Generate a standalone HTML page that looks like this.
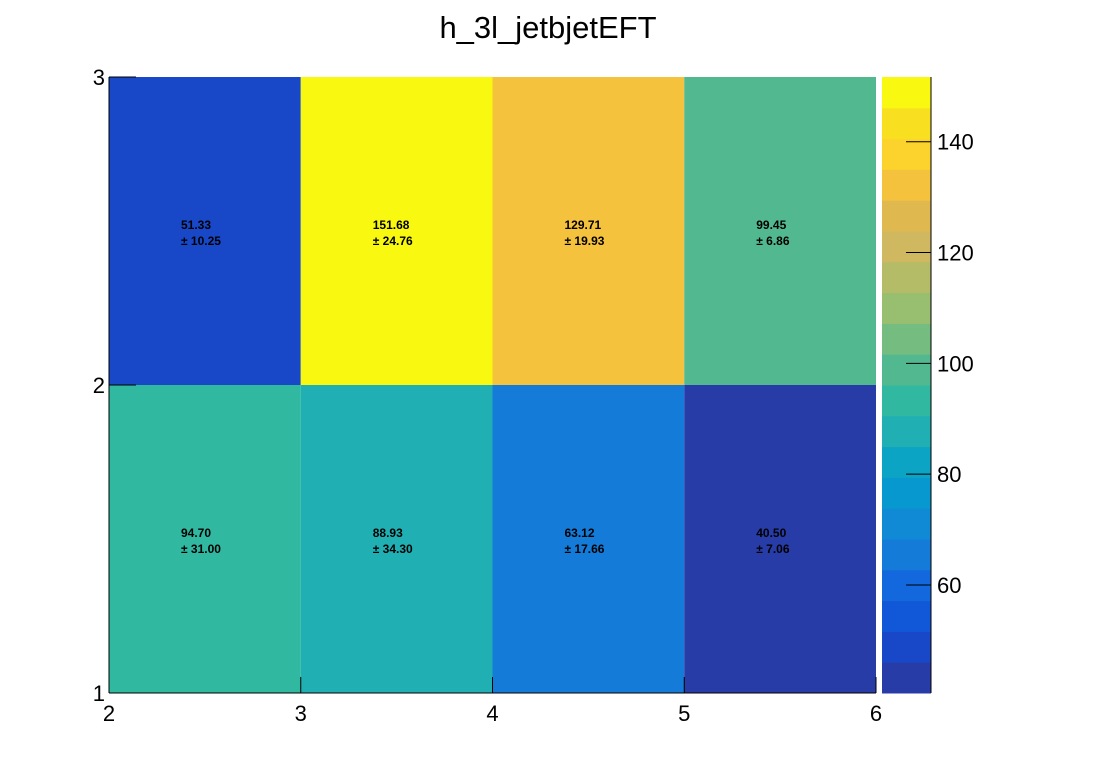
<!DOCTYPE html>
<html><head><meta charset="utf-8"><style>
body{margin:0;background:#fff}
svg{display:block;font-family:"Liberation Sans",Arial,sans-serif}
</style></head><body>
<svg id="chart" width="1096" height="772" viewBox="0 0 1096 772" xmlns="http://www.w3.org/2000/svg">
<rect width="1096" height="772" fill="#fff"/>
<text x="548" y="38" text-anchor="middle" font-size="31">h_3l_jetbjetEFT</text>
<g id="cells"></g>
<g id="palette"></g>
<g id="axes"></g>
</svg>
<script>
const xEdges = [2, 3, 4, 5, 6];
const yEdges = [1, 2, 3];
const values = [[94.70, 88.93, 63.12, 40.50],[51.33, 151.68, 129.71, 99.45]];
const errors = [[31.00, 34.30, 17.66, 7.06],[10.25, 24.76, 19.93, 6.86]];
const zTicks = [60, 80, 100, 120, 140];
const xTicks = [2, 3, 4, 5, 6];
const yTicks = [1, 2, 3];
const paletteColors = ["#283ca8","#1848c8","#1058d8","#1268dc","#147cd8","#108ad4","#0898d0","#0ca4c4","#20b0b4","#30b8a0","#52b890","#74bc80","#98be70","#b4bc68","#d0b860","#e0b850","#f4c23c","#fcd22c","#f8e020","#f8f810"];

const NS="http://www.w3.org/2000/svg";
const L=109,R=876,T=77,B=693,PL=882,PR=931;
const zMin=40.5,zMax=151.68;
const sx=v=>L+(v-xEdges[0])/(xEdges[xEdges.length-1]-xEdges[0])*(R-L);
const sy=v=>B-(v-yEdges[0])/(yEdges[yEdges.length-1]-yEdges[0])*(B-T);
const sz=v=>B-(v-zMin)/(zMax-zMin)*(B-T);
function mk(tag,attrs,parent,txt){const e=document.createElementNS(NS,tag);for(const k in attrs)e.setAttribute(k,attrs[k]);if(txt!==undefined)e.textContent=txt;parent.appendChild(e);return e;}
const cells=document.getElementById('cells'),pal=document.getElementById('palette'),axes=document.getElementById('axes');
const n=paletteColors.length;
function colorFor(v){let i=Math.floor((v-zMin)/(zMax-zMin)*n);if(i<0)i=0;if(i>=n)i=n-1;return paletteColors[i];}
for(let j=0;j<yEdges.length-1;j++)for(let i=0;i<xEdges.length-1;i++){
  const x0=sx(xEdges[i]),x1=sx(xEdges[i+1]),y0=sy(yEdges[j+1]),y1=sy(yEdges[j]);
  const r=mk('rect',{x:x0,y:y0,width:x1-x0,height:y1-y0,fill:colorFor(values[j][i])},cells);
  
  
  const cy=(y0+y1)/2;
  const t1=mk('text',{x:x0+72,y:cy-2,'font-size':12,'font-weight':'bold'},cells,values[j][i].toFixed(2));
  
  
  const t2=mk('text',{x:x0+72,y:cy+14,'font-size':12,'font-weight':'bold'},cells,'± '+errors[j][i].toFixed(2));
  
  
}
for(let k=0;k<n;k++){
  const y0=B-(k+1)*(B-T)/n,y1=B-k*(B-T)/n;
  const r=mk('rect',{x:PL,y:y0,width:PR-PL,height:y1-y0+0.5,fill:paletteColors[k]},pal);
  
  
}
mk('line',{x1:PR,y1:T,x2:PR,y2:B,stroke:'#000','stroke-width':1},pal);
zTicks.forEach(z=>{const y=sz(z);
  mk('line',{x1:PR-25,y1:y,x2:PR,y2:y,stroke:'#000'},pal);
  const t=mk('text',{x:PR+6,y:y+8,'font-size':22},pal,z);
  
  
});
mk('line',{x1:L,y1:B,x2:R,y2:B,stroke:'#000'},axes);
mk('line',{x1:L,y1:T,x2:L,y2:B,stroke:'#000'},axes);
xTicks.forEach(v=>{const x=sx(v);
  mk('line',{x1:x,y1:B,x2:x,y2:B-16,stroke:'#000'},axes);
  const t=mk('text',{x:x,y:B+28,'font-size':22,'text-anchor':'middle'},axes,v);
  
  
});
yTicks.forEach(v=>{const y=sy(v);
  mk('line',{x1:L,y1:y,x2:L+27,y2:y,stroke:'#000'},axes);
  const t=mk('text',{x:L-4,y:y+8,'font-size':22,'text-anchor':'end'},axes,v);
  
  
});
</script>
</body></html>
